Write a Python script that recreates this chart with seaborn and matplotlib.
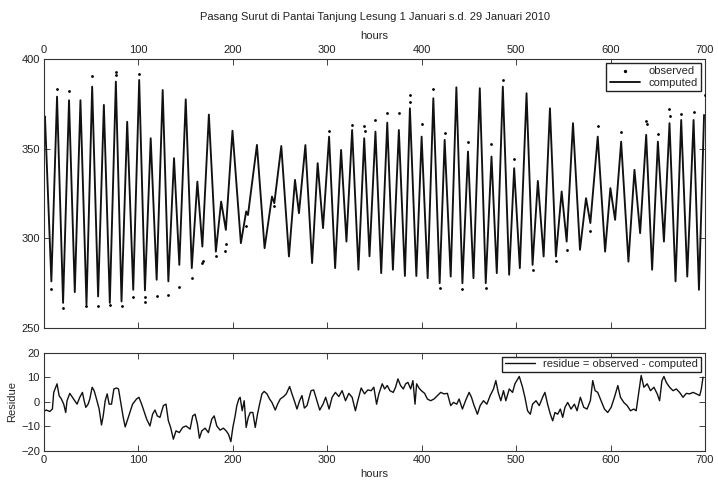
import matplotlib
matplotlib.use("Agg")
import matplotlib.pyplot as plt
import seaborn as sns
import pandas as pd

# ---------------- data ----------------
title = "Pasang Surut di Pantai Tanjung Lesung 1 Januari s.d. 29 Januari 2010"

# computed tide: successive high / low waters (hour, level)
comp_hours = [0, 1, 7.8, 13.8, 20.2, 26.5, 32.6, 38.6, 45, 51, 57.3, 63.4, 69.7, 76.1, 82.1,
              88.1, 94.5, 100.8, 106.9, 113, 119.3, 125.7, 131.7, 137.7, 143.3, 150.1, 156.5,
              162.4, 167.7, 174.6, 182, 187.6, 192.6, 199.6, 208.5, 214.1, 216, 225.5, 233.6,
              241.4, 243.9, 251.3, 259.4, 265.8, 270, 276.8, 283.9, 289.8, 295.5, 301.9, 308.3,
              314.6, 320.3, 326.3, 333, 339.1, 344.7, 351, 357.1, 363.5, 369.5, 375.8, 382.2,
              387.5, 394.3, 399.9, 406.3, 412.3, 419, 424.3, 430.7, 436.7, 443.1, 449, 454.8,
              461.5, 467.8, 473.9, 479.5, 485.9, 492.6, 497.9, 503.9, 511, 517.4, 523, 529.1,
              535.8, 542.1, 548.2, 553.5, 560.2, 567.6, 574, 578.6, 586.4, 594.2, 599.8, 604.8,
              611.2, 618.9, 625.3, 631.3, 637.7, 644, 650.1, 656.5, 662.4, 668.8, 674.8, 681.2,
              687.9, 693.6, 699]
comp_level = [366, 368, 276, 379, 264, 377, 270, 377, 263, 384.6, 267.6, 374.4, 264, 387.4, 264.8,
              365, 271.3, 388.3, 271, 355.8, 276.9, 382.7, 276, 344.7, 285.2, 377.5, 283.4,
              331.6, 295.4, 369, 292.6, 320.5, 304.7, 360, 297.3, 315, 313, 352.1, 294.5,
              323.3, 319.6, 351.5, 289.9, 332.6, 314, 352, 286.2, 341.9, 305.7, 356.7, 283.4,
              349.3, 298.2, 360.4, 282.5, 355.8, 290, 359.5, 280.6, 364.5, 282.5, 360.4, 279,
              372.5, 279, 356.7, 277.8, 378.1, 275, 354.9, 278.7, 384.2, 275, 348.4, 277.8,
              383.7, 275, 345.6, 280.6, 384.6, 279.7, 339.1, 283.4, 380.9, 285.2, 332, 289.9,
              372.5, 289.9, 326.1, 298.2, 364.2, 293.6, 322.4, 308.5, 356.7, 292.6, 328, 310.3,
              353.9, 287, 338.2, 302.9, 357.7, 282.5, 353.9, 298.2, 364.2, 276, 366, 278.7,
              366, 271.3, 368.8]

# observed points visible off the computed curve (hour, level)
obs_hours = [7.8, 13.8, 20.2, 26.5, 45, 51, 57.3, 69.7, 76.1, 76.6, 82.1, 94.5, 100.8, 106.9,
             107.4, 119.3, 131.7, 143.3, 156.5, 167.7, 168.6, 182, 192, 192.8, 214, 244, 302,
             326.3, 339.1, 339.6, 351, 363.5, 375.8, 387.5, 388, 400, 412.3, 419, 424.3, 443.1,
             449, 467.8, 473.9, 485.9, 497.9, 517.4, 542.1, 553.5, 578.6, 586.4, 611.2, 637.7,
             638.2, 650.1, 662.4, 662.8, 674.8, 687.9, 699.5]
obs_level = [272, 383, 261, 382, 262, 390.5, 262.5, 263, 393, 391, 262.5, 267.5, 391.5, 264.5,
             267.5, 268, 268.5, 273, 278, 286, 287.5, 290, 293, 297, 307, 318, 360,
             363, 362.5, 360, 366, 370, 370, 380, 376, 363.6, 383, 272.2, 358.8, 271.5,
             353.7, 272.5, 352.8, 388.3, 344.5, 282.5, 287.2, 293.6, 304, 362.4, 359.5, 365.5,
             363.6, 358.2, 371.9, 368, 369.1, 370.7, 380]

# residue = observed - computed
res_hours = [0.7, 2.5, 6, 8.9, 10.3, 12.4, 13.8, 16, 18.4, 20.9, 23, 24.4, 27.3, 30.1, 32.6, 35,
             37.9, 40.7, 42.5, 44.3, 46.7, 48.5, 51, 53.1, 55.6, 58.4, 60.9, 62.7, 64.8, 66.9,
             69, 71.5, 74, 76.8, 78.9, 81, 83.9, 86, 88.1, 90.9, 93.8, 98, 100.5, 103.4, 105.8,
             108.7, 112.2, 115, 117.5, 120, 122.8, 126.4, 129.2, 131.7, 134.1, 137, 139.8,
             143.3, 146.9, 150.4, 154.7, 157.5, 160, 162.5, 164.6, 167.1, 170.6, 174.1, 177.7,
             180.2, 183, 186.5, 190, 192.9, 195.4, 197.9, 200, 202.4, 204.2, 206.3, 207.7,
             209.9, 212, 214.1, 216.3, 218.4, 221.2, 223.7, 226.1, 228.3, 230.8, 233.2, 236.1,
             238.9, 241.4, 244.9, 247.4, 250.2, 253.8, 256.6, 260.1, 262.6, 265.1, 267.9,
             270.7, 273.2, 275.7, 278.5, 282.8, 285.6, 289.1, 292, 295.5, 298.3, 301.9, 305.1,
             308.6, 312.2, 315.7, 319.3, 322.8, 326.3, 329.8, 332.3, 335.9, 339.4, 342.9,
             346.5, 349.3, 352.2, 354.6, 358.2, 360.7, 363.5, 366.3, 369.9, 372.3, 374.8,
             377.6, 380.5, 383, 385.4, 388.3, 390.7, 392.9, 394.6, 397.1, 399.6, 403.1, 406,
             409.5, 413, 416.6, 420.1, 423.6, 427.2, 430.7, 433.6, 437.1, 439.6, 443.1, 446.7,
             450.2, 452.7, 455.5, 459, 461.9, 465.4, 469, 472.5, 476, 478.5, 481, 483.8, 486.6,
             489.1, 492.7, 496.2, 498.7, 503.3, 506.8, 509.3, 512.1, 515, 517.4, 521, 524.5,
             528, 530.5, 533.3, 536.2, 538.7, 541.1, 544, 546.8, 549.3, 551.7, 554.6, 558.1,
             561.7, 564.5, 568, 571.6, 575.1, 578.6, 581.1, 583.6, 586.4, 590, 593.5, 597,
             600.6, 604.1, 607.7, 610.5, 614, 617.6, 621.1, 624.6, 627.1, 629.6, 632.4, 635.3,
             638.8, 642.3, 645.9, 649.4, 651.9, 654.4, 656.5, 659, 662.5, 666.1, 669.6, 673.1,
             676.7, 680.2, 683.7, 687.3, 690.8, 694.4, 696.1, 697.9]
res_value = [-3.7, -3.4, -4, -3, 3.8, 5.9, 7.3, 2.5, 1.1, -1, -4.4, 0.4, 3.4, 1.8, 0.4, -1,
             1.8, 3.8, 0.4, -2.3, -1, 1.1, 5.9, 4.5, 1.1, -3, -9.5, -5.8, 0.4, 3.2,
             -1, -1, 5.2, 5.6, 5.2, 0.4, -6.4, -10.3, -7.8, -4.4, -1, 1.1, 1.8, -1, -3.7,
             -7.1, -9.9, -5.1, -3.4, -5.8, -6.4, -1.6, -1, -7.8, -10.5, -15.3, -11.9,
             -12.6, -10.5, -9.9, -11.2, -5.8, -5.1, -9.2, -14.9, -11.9, -10.8, -12.6, -7.1,
             -5.8, -9.9, -11.6, -10.8, -11.9, -13.3, -16.3, -10.5, -5.8, -1.6, 1.1, 1.8,
             -3.7, 0.4, -10.5, -6.4, -4.4, -4.4, -10.5, -5.1, -1, 3.2, 4.2, 3.2,
             1.1, -0.3, -3.4, -1, 1.1, 2.1, 3.2, 6.2, 3.2, 0.4, -3,
             0.4, 2.5, -2.6, -1.6, 4.5, 4.8, 0.4, -3.4, -1, 1.8, -3, 1.8,
             3.8, 2.1, 4.5, 0.4, 3.4, 1.8, -3.7, 0.4, 5.6, 3.2, 4.8,
             4.5, 5.9, -1, 3.2, 7.3, 5.2, 6.6, 4.5, 3.8, 5.9, 9.3,
             6.6, 5.2, 7.3, 7.9, 5.2, 8.6, -1, 7.3, 5.6, 4.5, 3.4, 1.1,
             0.4, 1.1, 2.5, 3.8, 3.2, 3.4, -1.6, -0.3, -1, 1.1, -3, 0.7,
             3.8, 1.8, -1.6, -5.1, -1.6, 0.4, -1, 2.5, 5.2, 8.6, 3.8, 0.4, 4.5,
             0.4, 5.2, 3.8, 7.3, 10.3, 5.9, 1.8, -3.7, -5.1, -1, 0.4, -1.6,
             1.8, 3.8, -1, -5.1, -7.8, -4.4, -5.1, -3, -6.4, -2.3, -0.3, -3,
             -1, -3.7, 1.8, -2.3, -3, 0.4, 8.6, 4.5, 3.8, 0.4, -3, -4.4,
             -2.3, 1.8, 6.6, 1.8, -0.3, -1.6, -3.7, -3, -3.7, 3.2, 10.7, 5.9,
             7.3, 4.5, 5.9, 3.2, 0.4, 8.6, 10.3, 7.9, 5.9, 4.5, 5.2, 3.8,
             1.8, 3.4, 3.2, 3.8, 3.2, 2.5, 5.2, 10]

top_xticks = [0, 100, 200, 300, 400, 500, 600, 700]
top_yticks = [250, 300, 350, 400]
bot_yticks = [-20, -10, 0, 10, 20]

# ---------------- drawing ----------------
sns.set_style("white")
plt.rcParams['font.family'] = ['Liberation Sans', 'DejaVu Sans']
plt.rcParams['font.size'] = 8

W, H = 718, 480
fig = plt.figure(figsize=(W / 100, H / 100), dpi=100)
L, R = 44, 705
ax1 = fig.add_axes([L / W, 1 - 328 / H, (R - L) / W, (328 - 59) / H])
ax2 = fig.add_axes([L / W, 1 - 450.7 / H, (R - L) / W, (450.7 - 352.7) / H])

comp = pd.DataFrame({"hours": comp_hours, "level": comp_level})
obs = pd.DataFrame({"hours": obs_hours, "level": obs_level})
res = pd.DataFrame({"hours": res_hours, "residue": res_value})

sns.lineplot(data=comp, x="hours", y="level", ax=ax1, color="#111111", lw=1.35,
             label="computed", sort=False, zorder=2)
sns.scatterplot(data=obs, x="hours", y="level", ax=ax1, color="black", s=4,
                marker="o", linewidth=0, label="observed", zorder=3)
sns.lineplot(data=res, x="hours", y="residue", ax=ax2, color="#111111", lw=1.0,
             label="residue = observed - computed", sort=False)

for ax in (ax1, ax2):
    ax.set_xlim(0, 700)
    ax.set_xticks(top_xticks)
    ax.tick_params(direction="in", length=4, width=0.6, top=True, bottom=True,
                   left=True, right=True, labelsize=8, colors="#222222", pad=3)
    for s in ax.spines.values():
        s.set_color("#333333")
        s.set_linewidth(0.8)
        s.set_visible(True)

ax1.set_ylim(250, 400)
ax1.set_yticks(top_yticks)
ax1.tick_params(labeltop=True, labelbottom=False)
ax1.xaxis.set_label_position("top")
ax1.set_xlabel("hours", fontsize=8, labelpad=4)
ax1.set_ylabel("")

ax2.set_ylim(-20, 20)
ax2.set_yticks(bot_yticks)
ax2.set_xlabel("hours", fontsize=8, labelpad=3)
ax2.set_ylabel("Residue", fontsize=8, labelpad=3)

h, l = ax1.get_legend_handles_labels()
order = [l.index("observed"), l.index("computed")]
ax1.legend([h[i] for i in order], [l[i] for i in order], loc="upper right",
           frameon=True, fancybox=False, edgecolor="#222222", framealpha=1,
           fontsize=8, handlelength=2.7, borderaxespad=0.35, borderpad=0.3,
           labelspacing=0.15, markerscale=1.2)
ax2.legend(loc="upper right", frameon=True, fancybox=False, edgecolor="#222222",
           framealpha=1, fontsize=8, handlelength=2.7, borderaxespad=0.35,
           borderpad=0.25)

fig.text((L + R) / 2 / W, 1 - 17 / H, title, ha="center", va="center", fontsize=8,
         color="#222222")

fig.savefig("out.png", dpi=100)
